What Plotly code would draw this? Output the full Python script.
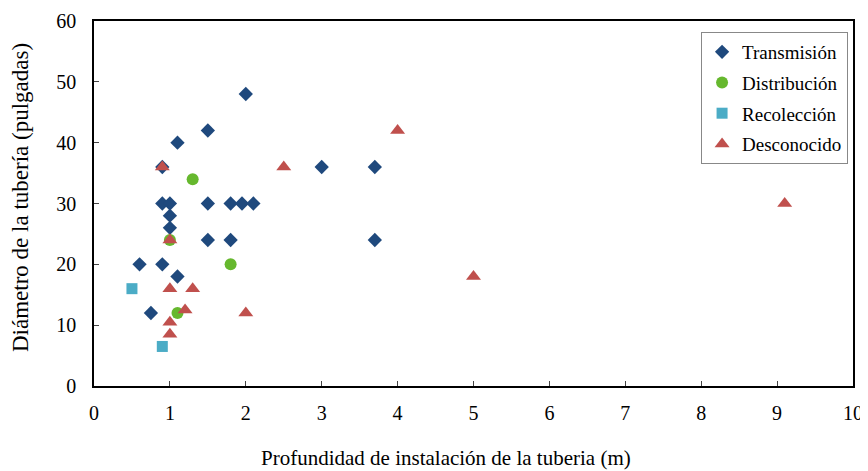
import plotly.graph_objects as go

# Transmisión
tx = [2.0, 1.5, 1.1, 0.9, 0.9, 1.0, 1.5, 1.8, 1.95, 2.1, 1.0, 1.0, 3.0, 3.7, 3.7, 1.5, 1.8, 0.6, 0.9, 1.1, 0.75]
ty = [48, 42, 40, 36, 30, 30, 30, 30, 30, 30, 28, 26, 36, 36, 24, 24, 24, 20, 20, 18, 12]
# Distribución
dx = [1.3, 1.0, 1.8, 1.1]
dy = [34, 24, 20, 12]
# Recolección
rx = [0.5, 0.9]
ry = [16, 6.5]
# Desconocido
ux = [0.9, 2.5, 4.0, 1.0, 1.0, 1.3, 1.2, 2.0, 1.0, 1.0, 5.0, 9.1]
uy = [36, 36, 42, 24, 16, 16, 12.5, 12, 10.5, 8.5, 18, 30]

x_ticks = list(range(0, 11))
y_ticks = list(range(0, 61, 10))

x_title = "Profundidad de instalación de la tuberia (m)"
y_title = "Diámetro de la tubería (pulgadas)"

font = "Liberation Serif"

fig = go.Figure()
fig.add_trace(go.Scatter(x=tx, y=ty, mode="markers", name="Transmisión", legendgroup="a",
                         marker=dict(symbol="diamond", size=11, color="#1F497D")))
fig.add_trace(go.Scatter(x=dx, y=dy, mode="markers", name="Distribución", legendgroup="b",
                         marker=dict(symbol="circle", size=12, color="#66B82E")))
fig.add_trace(go.Scatter(x=rx, y=ry, mode="markers", name="Recolección", legendgroup="c",
                         marker=dict(symbol="square", size=11, color="#4BACC6")))
fig.add_trace(go.Scatter(x=ux, y=uy, mode="markers", name="Desconocido", legendgroup="d",
                         marker=dict(symbol="triangle-up", size=13, color="#C0504D")))

# page body has an 8px default margin, so the figure is 8px smaller each way
fig.update_layout(
    width=860, height=463,
    margin=dict(l=86, r=15, t=13, b=85),
    paper_bgcolor="white", plot_bgcolor="white",
    font=dict(family=font, size=20, color="black"),
    xaxis=dict(range=[0, 10], tickvals=x_ticks, ticks="inside", ticklen=5,
               showline=True, linecolor="black", linewidth=1.5, mirror=True,
               showgrid=False, zeroline=False, automargin=False,
               ticklabelstandoff=8),
    yaxis=dict(range=[0, 60], tickvals=y_ticks, ticks="inside", ticklen=5,
               showline=True, linecolor="black", linewidth=1.5, mirror=True,
               showgrid=False, zeroline=False, automargin=False,
               ticklabelstandoff=12),
    legend=dict(x=0.9935, y=0.97, xanchor="right", yanchor="top",
                bordercolor="#888888", borderwidth=1, bgcolor="white",
                font=dict(size=19), itemwidth=30, tracegroupgap=3),
    showlegend=True,
    annotations=[
        dict(text=x_title, xref="paper", yref="paper", x=0.4638, y=-0.196,
             xanchor="center", yanchor="middle", showarrow=False,
             font=dict(size=21)),
        dict(text=y_title, xref="paper", yref="paper", x=-0.0975, y=0.5178,
             xanchor="center", yanchor="middle", showarrow=False, textangle=-90,
             font=dict(size=23)),
    ],
)

fig.write_html("out.html")
